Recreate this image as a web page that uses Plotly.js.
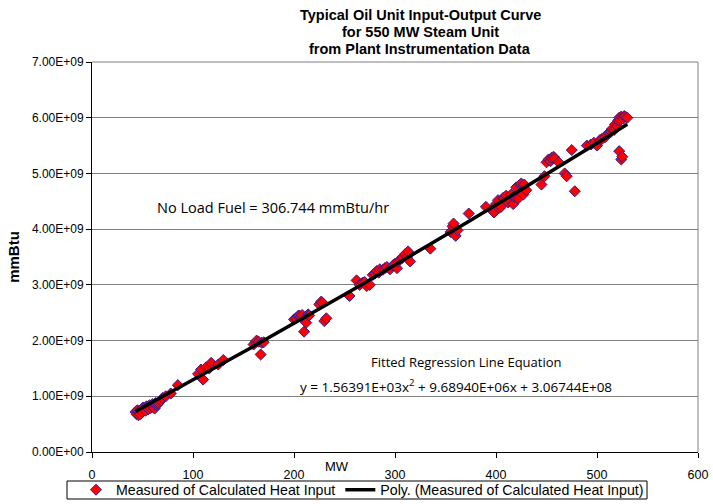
<!DOCTYPE html>
<html>
<head>
<meta charset="utf-8">
<script src="https://cdn.plot.ly/plotly-3.0.1.min.js"></script>
<style>html,body{margin:0;padding:0;background:#fff;}#chart{width:713px;height:504px;}</style>
</head>
<body>
<div id="chart"></div>
<script>
// Measured heat input (MW, mmBtu)
const mw = [43,44,45,46,46,47,48,48,49,50,50,51,52,53,54,55,56,57,58,59,60,61,62,63,64,65,66,68,70,73,78,85,
  105,108,110,113,116,118,125,130,
  160,162,163,165,167,168,170,
  200,202,204,205,207,208,210,212,214,215,225,227,228,230,232,
  255,262,265,268,270,272,275,278,280,282,284,285,288,290,292,295,298,300,302,303,305,307,308,310,312,313,315,
  335,355,357,358,360,362,373,
  390,396,398,400,402,403,405,407,408,410,412,414,415,417,418,420,422,424,425,427,428,430,
  445,448,450,452,454,455,457,458,462,468,470,475,478,
  490,494,497,500,503,505,508,510,512,514,515,517,518,520,521,522,523,524,525,526,527,528,530,
  522,524,525];
const heat = [0.72,0.68,0.75,0.66,0.72,0.70,0.74,0.68,0.76,0.79,0.72,0.80,0.77,0.74,0.82,0.80,0.77,0.84,0.79,0.83,0.86,0.80,0.78,0.88,0.84,0.86,0.88,0.92,0.97,1.00,1.05,1.20,
  1.40,1.48,1.30,1.52,1.50,1.60,1.57,1.65,
  1.93,1.97,2.00,1.98,1.75,1.96,1.97,
  2.38,2.40,2.44,2.45,2.42,2.46,2.16,2.32,2.47,2.45,2.65,2.70,2.68,2.35,2.40,
  2.80,3.08,3.00,3.04,3.05,2.98,3.00,3.18,3.20,3.25,3.22,3.28,3.27,3.30,3.32,3.28,3.35,3.38,3.30,3.42,3.45,3.48,3.50,3.55,3.50,3.60,3.42,
  3.65,3.95,4.05,4.10,3.88,3.98,4.28,
  4.40,4.35,4.30,4.45,4.52,4.38,4.40,4.56,4.55,4.60,4.48,4.52,4.62,4.45,4.58,4.75,4.55,4.80,4.82,4.62,4.80,4.70,
  4.80,4.95,5.20,5.25,5.22,5.28,5.30,5.27,5.20,5.00,4.95,5.42,4.68,
  5.50,5.52,5.55,5.50,5.60,5.62,5.65,5.70,5.72,5.75,5.80,5.78,5.88,5.85,5.95,6.00,5.96,6.02,6.00,5.98,6.03,6.02,6.00,
  5.40,5.25,5.30].map(v => v * 1e9);
// Fitted polynomial coefficients (a2, a1, a0)
const polyCoef = [1.56391e3, 9.68940e6, 3.06744e8];
const xTicks = [0,100,200,300,400,500,600];
const yTicks = [0,1e9,2e9,3e9,4e9,5e9,6e9,7e9];
const yTickText = ['0.00E+00','1.00E+09','2.00E+09','3.00E+09','4.00E+09','5.00E+09','6.00E+09','7.00E+09'];
const titleLines = ['Typical Oil Unit Input-Output Curve', 'for 550 MW Steam Unit', 'from Plant Instrumentation Data'];

const xs = mw.slice().sort((a,b)=>a-b);
const fitX = [xs[0], xs[xs.length-1]];
const fx = [], fy = [];
for (let i = 0; i <= 60; i++) {
  const x = fitX[0] + (fitX[1]-fitX[0]) * i / 60;
  fx.push(x);
  fy.push(polyCoef[0]*x*x + polyCoef[1]*x + polyCoef[2]);
}

const font = 'Liberation Sans, Arial, sans-serif';
const traces = [
  {x: mw, y: heat, type: 'scatter', mode: 'markers', name: 'Measured of Calculated Heat Input',
   marker: {symbol: 'diamond', size: 8.5, color: '#ff0000', line: {color: '#3a1a8c', width: 1}}},
  {x: fx, y: fy, type: 'scatter', mode: 'lines', name: 'Poly. (Measured of Calculated Heat Input)',
   line: {color: '#000000', width: 3.5}}
];
// plot area in pixels: left 92, width 606, top 62, height 390
const px2x = p => (p - 92) / 606;
const px2y = p => (452 - p) / 390;
const titleY = [15, 32, 49];
const annotations = titleLines.map((t, i) => ({
  text: '<b>' + t + '</b>', xref: 'paper', yref: 'paper', x: px2x(420), y: px2y(titleY[i]),
  xanchor: 'center', yanchor: 'middle', showarrow: false,
  font: {family: font, size: 14.5, color: '#000'}
}));
annotations.push(
  {text: 'MW', xref: 'x', yref: 'paper', x: 243, y: -0.012, xanchor: 'center', yanchor: 'top', showarrow: false,
   font: {size: 13}},
  {text: 'No Load Fuel = 306.744 mmBtu/hr', xref: 'x', yref: 'y', x: 62, y: 4.38e9, xanchor: 'left', yanchor: 'middle',
   showarrow: false, font: {size: 14.5, family: 'Open Sans, sans-serif'}},
  {text: 'Fitted Regression Line Equation', xref: 'x', yref: 'y', x: 371, y: 1.62e9, xanchor: 'center', yanchor: 'middle',
   showarrow: false, font: {size: 13, family: 'Open Sans, sans-serif'}},
  {text: 'y = 1.56391E+03x<sup>2</sup> + 9.68940E+06x + 3.06744E+08', xref: 'x', yref: 'y', x: 204, y: 1.19e9,
   xanchor: 'left', yanchor: 'middle', showarrow: false, font: {size: 13.5, family: 'Open Sans, sans-serif'}}
);
const layout = {
  width: 713, height: 504,
  margin: {l: 92, r: 15, t: 62, b: 52},
  paper_bgcolor: '#fff', plot_bgcolor: '#fff',
  font: {family: font, size: 12, color: '#000'},
  xaxis: {range: [0, 600], tickvals: xTicks, ticktext: xTicks.map(String), showgrid: false, zeroline: false,
    showline: true, linecolor: '#000', linewidth: 1, ticks: 'outside', ticklen: 5, tickcolor: '#000',
    ticklabelstandoff: 6, tickfont: {size: 12.5}, automargin: false},
  yaxis: {range: [0, 7e9], tickvals: yTicks, ticktext: yTickText, showgrid: true, gridcolor: '#808080', gridwidth: 1,
    zeroline: false, showline: true, linecolor: '#000', linewidth: 1, ticks: 'outside', ticklen: 5, tickcolor: '#000',
    tickfont: {size: 12}, automargin: false,
    title: {text: '<b>mmBtu</b>', font: {size: 15}, standoff: 8}},
  showlegend: true,
  legend: {orientation: 'h', xref: 'container', yref: 'container', x: 76 / 713, xanchor: 'left',
    y: 1 - 490 / 504, yanchor: 'middle',
    borderwidth: 0, bgcolor: 'rgba(0,0,0,0)', font: {size: 14.2}, itemwidth: 30,
    tracegroupgap: 0},
  shapes: [
    {type: 'line', xref: 'paper', yref: 'paper', x0: 0, x1: 1, y0: 1, y1: 1, line: {color: '#808080', width: 1}},
    {type: 'line', xref: 'paper', yref: 'paper', x0: 1, x1: 1, y0: 0, y1: 1, line: {color: '#808080', width: 1}},
    {type: 'rect', xref: 'paper', yref: 'paper', x0: px2x(67), x1: px2x(647), y0: px2y(499), y1: px2y(481),
     line: {color: '#000', width: 1}, fillcolor: 'rgba(0,0,0,0)', layer: 'above'}
  ],
  annotations: annotations
};
Plotly.newPlot('chart', traces, layout, {displayModeBar: false, staticPlot: true});
</script>
</body>
</html>
